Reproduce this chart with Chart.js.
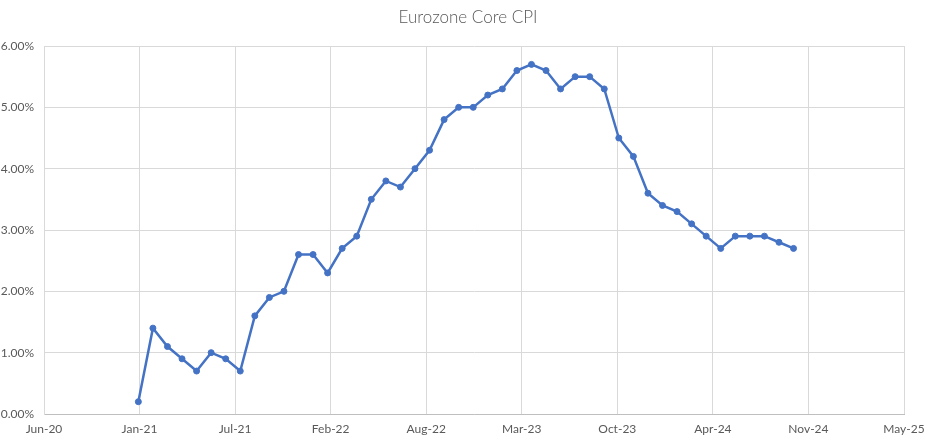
<!DOCTYPE html>
<html>
<head>
<meta charset="utf-8">
<script src="https://cdn.jsdelivr.net/npm/chart.js@4/dist/chart.umd.min.js"></script>
<style>
  html, body { margin: 0; padding: 0; background: #ffffff; }
  #wrap { width: 936px; height: 443px; }
</style>
</head>
<body>
<div id="wrap"><canvas id="cpi"></canvas></div>
<script>
// months counted from Dec-20 (= 0)
var months = [];
for (var m = 0; m < 46; m++) months.push(m);

// core inflation, percent, Dec-20 .. Sep-24
var coreCpi = [0.2, 1.4, 1.1, 0.9, 0.7, 1.0, 0.9, 0.7, 1.6, 1.9, 2.0, 2.6,
               2.6, 2.3, 2.7, 2.9, 3.5, 3.8, 3.7, 4.0, 4.3, 4.8, 5.0, 5.0,
               5.2, 5.3, 5.6, 5.7, 5.6, 5.3, 5.5, 5.5, 5.3, 4.5, 4.2, 3.6,
               3.4, 3.3, 3.1, 2.9, 2.7, 2.9, 2.9, 2.9, 2.8, 2.7];

var xTickLabels = ["Jun-20", "Jan-21", "Jul-21", "Feb-22", "Aug-22",
                   "Mar-23", "Oct-23", "Apr-24", "Nov-24", "May-25"];
var yTicks = [0, 1, 2, 3, 4, 5, 6];
var chartTitle = 'Eurozone Core CPI';

// date axis, in months from Dec-20
var xStart = -6.48;
var xStep = 6.563;

var points = months.map(function(m, i) { return { x: m, y: coreCpi[i] }; });

// title centred on the whole canvas, not on the padded layout box
var centerTitle = {
    id: 'centerTitle',
    afterDraw: function(chart) {
        var c = chart.ctx;
        c.save();
        c.fillStyle = '#595959';
        c.font = '300 17px Lato';
        c.textAlign = 'center';
        c.textBaseline = 'middle';
        c.fillText(chartTitle, chart.width / 2, 18);
        c.restore();
    }
};

var ctx = document.getElementById("cpi").getContext("2d");
window.cpiChart = new Chart(ctx, {
    type: 'line',
    data: {
        datasets: [{
            label: 'Core CPI',
            data: points,
            borderColor: '#4472C4',
            backgroundColor: '#4472C4',
            borderWidth: 2.5,
            pointRadius: 3,
            pointBorderWidth: 1,
            pointBorderColor: '#4472C4',
            pointBackgroundColor: '#4472C4',
            tension: 0
        }]
    },
    plugins: [centerTitle],
    options: {
        responsive: true,
        maintainAspectRatio: false,
        animation: false,
        layout: { padding: { left: 0, right: 32, top: 46, bottom: 0 } },
        plugins: {
            legend: { display: false },
            tooltip: { enabled: false },
            title: { display: false }
        },
        scales: {
            x: {
                type: 'linear',
                min: xStart,
                max: xStart + xStep * (xTickLabels.length - 1),
                afterBuildTicks: function(scale) {
                    scale.ticks = xTickLabels.map(function(l, i) {
                        return { value: xStart + xStep * i };
                    });
                },
                afterFit: function(scale) { scale.height = 29; },
                grid: { color: '#d9d9d9', lineWidth: 1, drawTicks: false },
                border: { color: '#bfbfbf', width: 1 },
                ticks: {
                    autoSkip: false,
                    maxRotation: 0,
                    padding: 8,
                    color: '#595959',
                    font: { family: 'Lato', size: 12 },
                    callback: function(v, i) { return xTickLabels[i]; }
                }
            },
            y: {
                min: yTicks[0],
                max: yTicks[yTicks.length - 1],
                afterFit: function(scale) { scale.width = 44; },
                grid: { color: '#d9d9d9', lineWidth: 1, drawTicks: false },
                border: { color: '#d9d9d9', width: 1 },
                ticks: {
                    stepSize: 1,
                    padding: 10,
                    color: '#595959',
                    font: { family: 'Lato', size: 12 },
                    callback: function(v) { return v.toFixed(2) + '%'; }
                }
            }
        }
    }
});
</script>
</body>
</html>
